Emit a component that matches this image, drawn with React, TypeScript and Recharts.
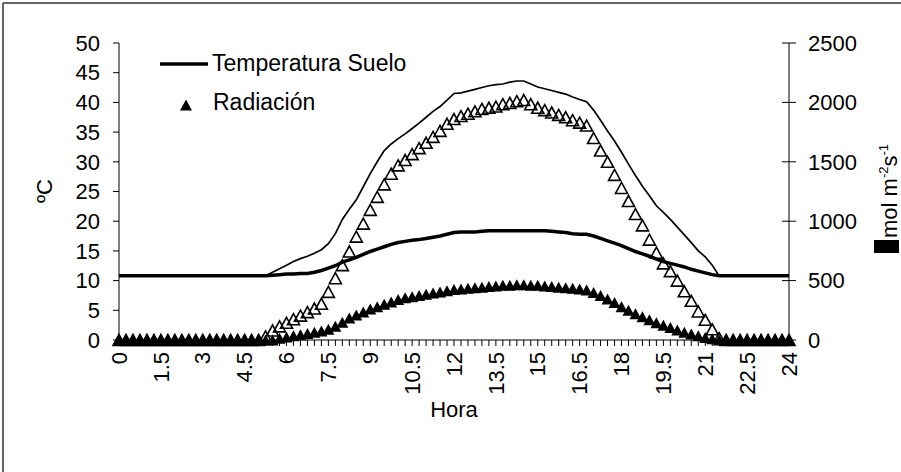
import React from "react";
import { ComposedChart, Line, XAxis, YAxis } from "recharts";

// hora del día, cada 15 minutos
const HORAS = [
  0, 0.25, 0.5, 0.75, 1, 1.25, 1.5, 1.75, 2, 2.25, 2.5, 2.75, 3, 3.25, 3.5, 3.75,
  4, 4.25, 4.5, 4.75, 5, 5.25, 5.5, 5.75, 6, 6.25, 6.5, 6.75, 7, 7.25, 7.5, 7.75,
  8, 8.25, 8.5, 8.75, 9, 9.25, 9.5, 9.75, 10, 10.25, 10.5, 10.75, 11, 11.25, 11.5, 11.75,
  12, 12.25, 12.5, 12.75, 13, 13.25, 13.5, 13.75, 14, 14.25, 14.5, 14.75, 15, 15.25, 15.5, 15.75,
  16, 16.25, 16.5, 16.75, 17, 17.25, 17.5, 17.75, 18, 18.25, 18.5, 18.75, 19, 19.25, 19.5, 19.75,
  20, 20.25, 20.5, 20.75, 21, 21.25, 21.5, 21.75, 22, 22.25, 22.5, 22.75, 23, 23.25, 23.5, 23.75, 24,
];

const HORA_LABELS = [0, 1.5, 3, 4.5, 6, 7.5, 9, 10.5, 12, 13.5, 15, 16.5, 18, 19.5, 21, 22.5, 24];
const TEMP_TICKS = [0, 5, 10, 15, 20, 25, 30, 35, 40, 45, 50];
const RAD_TICKS = [0, 500, 1000, 1500, 2000, 2500];

// temperatura del suelo (ºC)
const TEMP_SUELO = [
  10.8, 10.8, 10.8, 10.8, 10.8, 10.8, 10.8, 10.8, 10.8, 10.8, 10.8, 10.8, 10.8, 10.8, 10.8, 10.8,
  10.8, 10.8, 10.8, 10.8, 10.8, 10.8, 10.9, 11.0, 11.1, 11.1, 11.2, 11.2, 11.4, 11.7, 12.1, 12.5,
  13.1, 13.5, 13.9, 14.4, 14.9, 15.3, 15.7, 16.1, 16.4, 16.6, 16.8, 16.9, 17.1, 17.3, 17.5, 17.8,
  18.1, 18.2, 18.2, 18.2, 18.3, 18.4, 18.4, 18.4, 18.4, 18.4, 18.4, 18.4, 18.4, 18.4, 18.3, 18.2,
  18.1, 17.9, 17.8, 17.8, 17.5, 17.1, 16.7, 16.3, 15.9, 15.4, 14.9, 14.5, 14.1, 13.6, 13.2, 12.9,
  12.6, 12.3, 11.9, 11.6, 11.3, 11.0, 10.8, 10.8, 10.8, 10.8, 10.8, 10.8, 10.8, 10.8, 10.8, 10.8, 10.8,
];

// temperatura del aire (ºC)
const TEMP_AIRE = [
  10.8, 10.8, 10.8, 10.8, 10.8, 10.8, 10.8, 10.8, 10.8, 10.8, 10.8, 10.8, 10.8, 10.8, 10.8, 10.8,
  10.8, 10.8, 10.8, 10.8, 10.8, 10.8, 11.4, 12.0, 12.6, 13.2, 13.7, 14.1, 14.6, 15.2, 16.2, 17.9,
  20.3, 22.0, 23.6, 25.8, 28.0, 30.0, 31.9, 33.0, 33.9, 34.7, 35.6, 36.5, 37.5, 38.5, 39.3, 40.4,
  41.5, 41.6, 41.9, 42.2, 42.5, 42.8, 43.0, 43.1, 43.4, 43.6, 43.6, 43.1, 42.6, 42.3, 42.0, 41.7,
  41.4, 40.9, 40.5, 40.1, 38.7, 37.0, 35.2, 33.5, 31.6, 29.6, 27.7, 25.9, 24.3, 22.6, 21.5, 20.3,
  19.0, 17.7, 16.4, 15.0, 14.0, 12.6, 10.8, 10.8, 10.8, 10.8, 10.8, 10.8, 10.8, 10.8, 10.8, 10.8, 10.8,
];

// radiación incidente (µmol m-2 s-1), triángulos abiertos
const RAD_ABIERTA = [
  0, 0, 0, 0, 0, 0, 0, 0, 0, 0, 0, 0, 0, 0, 0, 0,
  0, 0, 0, 0, 0, 30, 80, 115, 145, 175, 205, 235, 265, 305, 405, 520,
  630, 745, 870, 980, 1095, 1205, 1310, 1400, 1470, 1515, 1565, 1615, 1660, 1710, 1760, 1820,
  1860, 1885, 1905, 1925, 1945, 1955, 1965, 1985, 1995, 2010, 2020, 1985, 1955, 1935, 1915, 1895,
  1875, 1850, 1830, 1805, 1700, 1595, 1500, 1390, 1280, 1170, 1060, 965, 845, 735, 645, 580,
  500, 410, 330, 240, 170, 90, 15, 0, 0, 0, 0, 0, 0, 0, 0, 0, 0,
];

// radiación (µmol m-2 s-1), triángulos rellenos
const RAD_RELLENA = [
  0, 0, 0, 0, 0, 0, 0, 0, 0, 0, 0, 0, 0, 0, 0, 0,
  0, 0, 0, 0, 0, 0, 0, 15, 25, 35, 45, 55, 65, 75, 90, 115,
  150, 185, 210, 235, 260, 280, 300, 320, 340, 355, 365, 375, 385, 395, 405, 415,
  425, 430, 435, 440, 445, 450, 455, 460, 460, 465, 465, 460, 460, 455, 450, 445,
  440, 435, 430, 420, 400, 375, 345, 315, 280, 250, 220, 195, 170, 145, 125, 105,
  85, 65, 50, 35, 20, 10, 0, 0, 0, 0, 0, 0, 0, 0, 0, 0, 0,
];

const data = HORAS.map((hora, i) => ({
  hora,
  suelo: TEMP_SUELO[i],
  aire: TEMP_AIRE[i],
  radAbierta: RAD_ABIERTA[i],
  radRellena: RAD_RELLENA[i],
}));

const FONT = "'Liberation Sans', Arial, sans-serif";
const FS = 22;

function triangle(cx: number, cy: number, w: number, h: number) {
  return `M${cx},${cy - h / 2} L${cx + w / 2},${cy + h / 2} L${cx - w / 2},${cy + h / 2} Z`;
}

const filledDot = (p: any) => {
  if (p.cx == null || p.cy == null) return <g key={p.index} />;
  return <path key={p.index} d={triangle(p.cx, p.cy, 12, 11)} fill="#000" stroke="none" />;
};

const openDot = (p: any) => {
  if (p.cx == null || p.cy == null) return <g key={p.index} />;
  return (
    <path key={p.index} d={triangle(p.cx, p.cy, 12, 11)} fill="none" stroke="#000" strokeWidth={1.6} />
  );
};

const HourTick = (p: any) => {
  const { x, y, payload } = p;
  const show = HORA_LABELS.includes(payload.value);
  return (
    <g>
      <line x1={x} y1={y} x2={x} y2={y + 6} stroke="#000" strokeWidth={1} />
      {show && (
        <text
          x={x}
          y={y + 12}
          transform={`rotate(-90 ${x} ${y + 12})`}
          textAnchor="end"
          dy="0.35em"
          fontSize={FS}
          fontFamily={FONT}
          fill="#000"
        >
          {payload.value}
        </text>
      )}
    </g>
  );
};

const LeftTick = (p: any) => {
  const { x, y, payload } = p;
  return (
    <g>
      <line x1={x - 6} y1={y} x2={x} y2={y} stroke="#000" strokeWidth={1} />
      <text x={x - 19} y={y} dy="0.35em" textAnchor="end" fontSize={FS} fontFamily={FONT} fill="#000">
        {payload.value}
      </text>
    </g>
  );
};

const RightTick = (p: any) => {
  const { x, y, payload } = p;
  return (
    <g>
      <line x1={x - 7} y1={y} x2={x + 7} y2={y} stroke="#000" strokeWidth={1} />
      <text x={x + 19} y={y} dy="0.35em" textAnchor="start" fontSize={FS} fontFamily={FONT} fill="#000">
        {payload.value}
      </text>
    </g>
  );
};

export default function App() {
  return (
    <div style={{ position: "absolute", left: 0, top: 0, width: 901, height: 472, background: "#fff" }}>
      <ComposedChart width={901} height={472} data={data} margin={{ top: 43, right: 0, bottom: 0, left: 0 }}>
        <XAxis
          type="number"
          dataKey="hora"
          domain={[0, 24]}
          ticks={HORAS}
          interval={0}
          tickSize={0}
          tickMargin={0}
          tickLine={false}
          axisLine={{ stroke: "#000", strokeWidth: 1 }}
          height={132}
          tick={HourTick}
        />
        <YAxis
          yAxisId="t"
          domain={[0, 50]}
          ticks={TEMP_TICKS}
          interval={0}
          width={119}
          tickSize={0}
          tickMargin={0}
          tickLine={false}
          axisLine={{ stroke: "#000", strokeWidth: 1 }}
          tick={LeftTick}
        />
        <YAxis
          yAxisId="r"
          orientation="right"
          domain={[0, 2500]}
          ticks={RAD_TICKS}
          interval={0}
          width={112}
          tickSize={0}
          tickMargin={0}
          tickLine={false}
          axisLine={{ stroke: "#000", strokeWidth: 1 }}
          tick={RightTick}
        />
        <Line
          yAxisId="t"
          dataKey="aire"
          type="linear"
          stroke="#000"
          strokeWidth={1.7}
          dot={false}
          activeDot={false}
          isAnimationActive={false}
        />
        <Line
          yAxisId="t"
          dataKey="suelo"
          type="linear"
          stroke="#000"
          strokeWidth={3.5}
          dot={false}
          activeDot={false}
          isAnimationActive={false}
        />
        <Line
          yAxisId="r"
          dataKey="radRellena"
          stroke="none"
          dot={filledDot}
          activeDot={false}
          isAnimationActive={false}
        />
        <Line
          yAxisId="r"
          dataKey="radAbierta"
          stroke="none"
          dot={openDot}
          activeDot={false}
          isAnimationActive={false}
        />
      </ComposedChart>
      <svg
        width={901}
        height={472}
        style={{ position: "absolute", left: 0, top: 0, pointerEvents: "none" }}
        fontFamily={FONT}
      >
        <line x1={3} y1={3} x2={901} y2={3} stroke="#333" strokeWidth={1.5} />
        <line x1={3} y1={3} x2={3} y2={472} stroke="#333" strokeWidth={1.5} />
        {/* leyenda */}
        <line x1={160} y1={64} x2={208} y2={64} stroke="#000" strokeWidth={3.5} />
        <text x={212} y={71} fontSize={23} fill="#000">Temperatura Suelo</text>
        <path d={triangle(186, 105, 12, 11)} fill="#000" />
        <text x={213} y={110} fontSize={23} fill="#000">Radiación</text>
        {/* títulos de ejes */}
        <text x={454} y={417} fontSize={FS} textAnchor="middle" fill="#000">Hora</text>
        <text
          x={44}
          y={191}
          fontSize={FS}
          textAnchor="middle"
          dy="0.35em"
          transform="rotate(-90 44 191)"
          fill="#000"
        >
          ºC
        </text>
        <rect x={874} y={240} width={25} height={13} fill="#000" />
        <text x={897} y={238} fontSize={FS} textAnchor="start" transform="rotate(-90 897 238)" fill="#000">
          mol m<tspan fontSize={13} dy={-9}>-2</tspan>
          <tspan dy={9}>s</tspan>
          <tspan fontSize={13} dy={-9}>-1</tspan>
        </text>
      </svg>
    </div>
  );
}
